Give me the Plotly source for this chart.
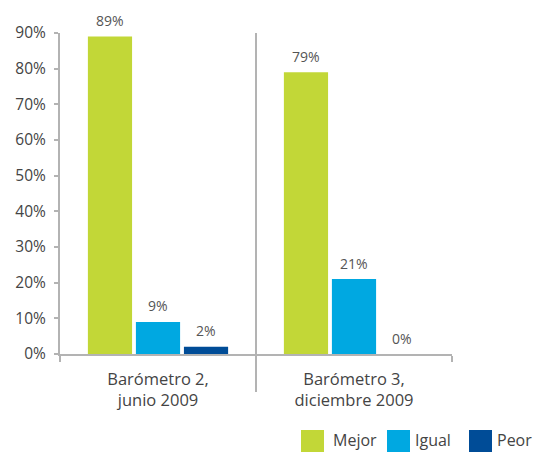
import plotly.graph_objects as go

# ---- data ----
categories = ["Barómetro 2,<br>junio 2009", "Barómetro 3,<br>diciembre 2009"]
series_names = ["Mejor", "Igual", "Peor"]
mejor = [89, 79]
igual = [9, 21]
peor = [2, 0]
y_tick_vals = [0, 10, 20, 30, 40, 50, 60, 70, 80, 90]
y_tick_text = ["0%", "10%", "20%", "30%", "40%", "50%", "60%", "70%", "80%", "90%"]

# ---- style ----
colors = ["#C2D737", "#00A8E1", "#004C97"]
W, H = 545, 452
L, R, T, B = 60, 93, 33, 98
FONT = "Open Sans"
AXIS_COL = "#b3b3b3"
BARGAP = 0.265
BARGROUPGAP = 0.08


def px(x):
    return (x - L) / (W - L - R)


def py(y):
    return (H - B - y) / (H - T - B)


fig = go.Figure()
for name, vals, col in zip(series_names, [mejor, igual, peor], colors):
    fig.add_trace(go.Bar(
        x=categories, y=vals, name=name, marker_color=col,
        marker_line_width=0, showlegend=False, hoverinfo="skip",
    ))

# value labels placed above each bar (data coords, shifted to the bar's slot)
cat_px = (W - L - R) / len(categories)
slot_px = cat_px * (1 - BARGAP) / len(series_names)
annotations = []
for si, vals in enumerate([mejor, igual, peor]):
    off = (si - (len(series_names) - 1) / 2) * slot_px
    for ci, v in enumerate(vals):
        annotations.append(dict(
            x=categories[ci], y=v, xref="x", yref="y", text=f"{v}%",
            showarrow=False, xshift=off, yshift=16, yanchor="middle",
            font=dict(size=14, color="#555555", family=FONT)))

shapes = [
    dict(type="line", xref="x", yref="paper", x0=0.5, x1=0.5,
         y0=py(392), y1=1, line=dict(color=AXIS_COL, width=2)),
]
sw_x = [301, 387, 469]
tx_x = [331, 413, 495]
for i, name in enumerate(series_names):
    shapes.append(dict(type="rect", xref="paper", yref="paper",
                       x0=px(sw_x[i]), x1=px(sw_x[i] + 23),
                       y0=py(452), y1=py(430),
                       fillcolor=colors[i], line=dict(width=0)))
    annotations.append(dict(xref="paper", yref="paper", x=px(tx_x[i]), y=py(440),
                            text=name, showarrow=False, xanchor="left", yanchor="middle",
                            font=dict(size=16, color="#444444", family=FONT)))

fig.update_layout(
    width=W, height=H,
    margin=dict(l=L, r=R, t=T, b=B, pad=0),
    paper_bgcolor="white", plot_bgcolor="white",
    barmode="group", bargap=BARGAP, bargroupgap=BARGROUPGAP,
    font=dict(family=FONT, color="#444444"),
    shapes=shapes, annotations=annotations,
    xaxis=dict(
        showline=True, linecolor=AXIS_COL, linewidth=2,
        ticks="outside", tickson="boundaries", ticklen=6, tickcolor=AXIS_COL, tickwidth=2,
        tickfont=dict(size=16.5, color="#444444", family=FONT),
        ticklabelstandoff=9,
        showgrid=False, zeroline=False,
    ),
    yaxis=dict(
        range=[0, 90], tickvals=y_tick_vals, ticktext=y_tick_text,
        showline=True, linecolor=AXIS_COL, linewidth=2,
        ticks="outside", ticklen=4, tickcolor=AXIS_COL, tickwidth=2,
        tickfont=dict(size=15.5, color="#444444", family=FONT),
        ticklabelstandoff=5,
        showgrid=False, zeroline=False,
    ),
)

fig.write_html("out.html", config={"displayModeBar": False},
               post_script="document.body.style.margin='0';")
